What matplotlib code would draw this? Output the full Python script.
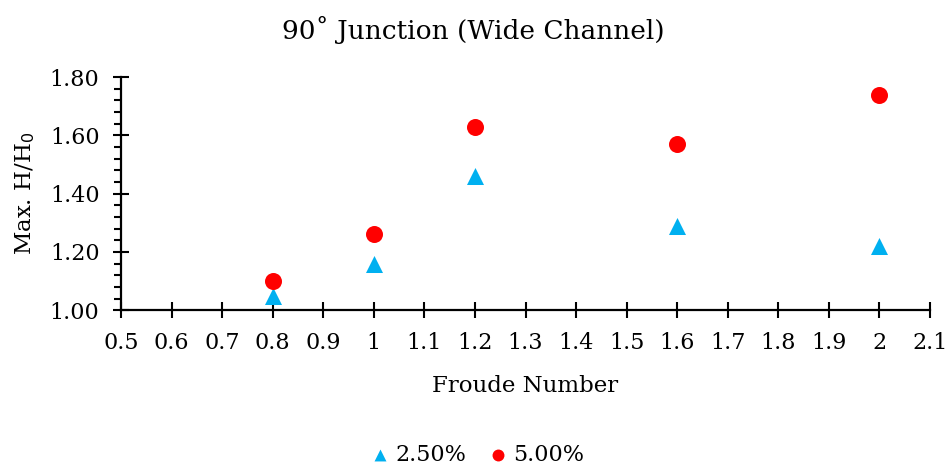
import matplotlib
matplotlib.use("Agg")
import matplotlib.pyplot as plt
from matplotlib.ticker import MultipleLocator, FormatStrFormatter, FuncFormatter

froude = [0.8, 1.0, 1.2, 1.6, 2.0]
h_ratio_250 = [1.05, 1.16, 1.46, 1.29, 1.22]
h_ratio_500 = [1.10, 1.26, 1.63, 1.57, 1.74]
series_labels = ["2.50%", "5.00%"]

plt.rcParams["font.family"] = ["DejaVu Serif"]

fig = plt.figure(figsize=(9.46, 4.65), dpi=100)
ax = fig.add_axes([0.128, 0.333, 0.855, 0.501])

ax.scatter(froude, h_ratio_250, marker="^", s=150, color="#00B0F0",
           linewidths=0, label=series_labels[0], zorder=3, clip_on=False)
ax.scatter(froude, h_ratio_500, marker="o", s=150, color="#FF0000",
           linewidths=0, label=series_labels[1], zorder=3, clip_on=False)

ax.set_xlim(0.5, 2.1)
ax.set_ylim(1.0, 1.8)
ax.xaxis.set_major_locator(MultipleLocator(0.1))
ax.yaxis.set_major_locator(MultipleLocator(0.2))
ax.yaxis.set_minor_locator(MultipleLocator(0.04))
ax.xaxis.set_major_formatter(FuncFormatter(lambda v, p: f"{round(v, 1):g}"))
ax.yaxis.set_major_formatter(FormatStrFormatter("%.2f"))

for side in ("top", "right"):
    ax.spines[side].set_visible(False)
for side in ("left", "bottom"):
    ax.spines[side].set_linewidth(1.6)

ax.tick_params(axis="x", which="major", direction="inout", length=12, width=1.5,
               labelsize=16, pad=10)
ax.tick_params(axis="y", which="major", direction="inout", length=11, width=1.5,
               labelsize=16, pad=10)
ax.tick_params(axis="y", which="minor", direction="out", length=5, width=1.5)

fig.text(0.5, 0.935, "90\u02da Junction (Wide Channel)", fontsize=19,
         ha="center", va="center")
ax.set_xlabel("Froude Number", fontsize=16.5, labelpad=15)
ax.set_ylabel("Max. H/H$_0$", fontsize=16.5, labelpad=9)

fig.legend(loc="lower center", bbox_to_anchor=(0.505, -0.045), ncol=2, frameon=False,
           fontsize=16, handlelength=0.8, handletextpad=0.3, columnspacing=1.0,
           markerscale=0.7)

fig.savefig("out.png", dpi=100)
